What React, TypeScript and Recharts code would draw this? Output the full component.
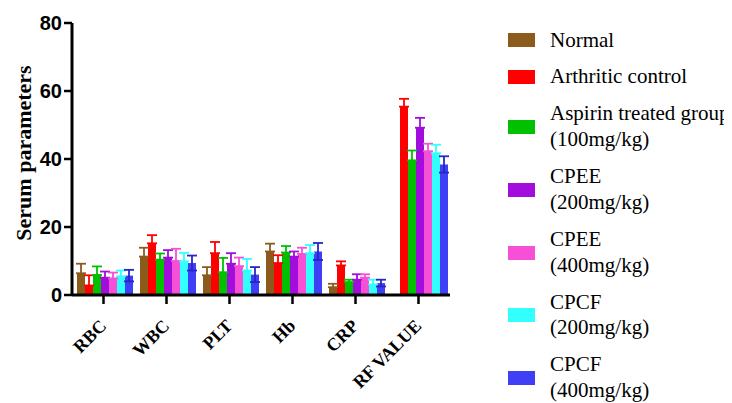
import React from 'react';
import { BarChart, Bar, XAxis, YAxis, ErrorBar, Legend, Label } from 'recharts';

const categories = ['RBC', 'WBC', 'PLT', 'Hb', 'CRP', 'RF VALUE'];

const normal = [6.4, 11.3, 5.8, 12.8, 2.3, null];
const normalErr = [2.8, 2.6, 2.4, 2.3, 1.0, null];
const arthritic = [2.8, 15.2, 12.3, 9.4, 8.7, 55.4];
const arthriticErr = [3.0, 2.4, 3.3, 2.3, 1.2, 2.3];
const aspirin = [5.9, 10.4, 6.7, 12.5, 3.8, 39.6];
const aspirinErr = [2.5, 1.8, 4.2, 1.9, 0.7, 2.9];
const cpee200 = [5.1, 11.0, 9.2, 11.3, 4.5, 49.2];
const cpee200Err = [1.8, 2.2, 3.1, 1.5, 1.6, 2.9];
const cpee400 = [4.9, 10.0, 8.5, 12.1, 5.1, 42.3];
const cpee400Err = [1.7, 3.6, 2.5, 1.8, 1.0, 2.2];
const cpcf200 = [5.5, 9.9, 7.2, 12.3, 3.1, 41.7];
const cpcf200Err = [1.7, 2.5, 3.4, 2.4, 1.4, 2.5];
const cpcf400 = [5.7, 9.4, 6.0, 12.8, 3.5, 38.4];
const cpcf400Err = [1.7, 2.2, 2.2, 2.5, 1.0, 2.4];

const yTicks = [0, 20, 40, 60, 80];

const series = [
  { key: 'normal', vals: normal, errs: normalErr, name: ['Normal'], color: '#8c5b1c', errColor: '#8c5b1c', both: false },
  { key: 'arthritic', vals: arthritic, errs: arthriticErr, name: ['Arthritic control'], color: '#ff0000', errColor: '#ff0000', both: false },
  { key: 'aspirin', vals: aspirin, errs: aspirinErr, name: ['Aspirin treated group', '(100mg/kg)'], color: '#00c000', errColor: '#00c000', both: false },
  { key: 'cpee200', vals: cpee200, errs: cpee200Err, name: ['CPEE', '(200mg/kg)'], color: '#a20cdc', errColor: '#a20cdc', both: false },
  { key: 'cpee400', vals: cpee400, errs: cpee400Err, name: ['CPEE', '(400mg/kg)'], color: '#f550d6', errColor: '#f550d6', both: false },
  { key: 'cpcf200', vals: cpcf200, errs: cpcf200Err, name: ['CPCF', '(200mg/kg)'], color: '#33ffff', errColor: '#33ffff', both: false },
  { key: 'cpcf400', vals: cpcf400, errs: cpcf400Err, name: ['CPCF', '(400mg/kg)'], color: '#3f3ff5', errColor: '#2626c8', both: true },
];

const data = categories.map((c, i) => {
  const row: any = { category: c };
  series.forEach((s) => {
    row[s.key] = s.vals[i];
    const e = s.errs[i];
    row[s.key + 'Err'] = e == null ? null : [s.both ? e : 0, e];
  });
  return row;
});

const SERIF = '"Liberation Serif", "Times New Roman", Tinos, "DejaVu Serif", "Noto Serif", serif';
const SANS = '"Liberation Sans", Arial, sans-serif';

const XTick = (props: any) => {
  const { x, y, payload } = props;
  const ax = x + 4;
  const ay = y + 21;
  return (
    <text
      x={ax}
      y={ay}
      transform={`rotate(-45, ${ax}, ${ay})`}
      textAnchor="end"
      fontFamily={SERIF}
      fontWeight="bold"
      fontSize={18}
      fill="#000"
    >
      {payload.value}
    </text>
  );
};

const LegendContent = () => (
  <div style={{ fontFamily: SERIF, fontSize: 21, color: '#000' }}>
    {series.map((s) => (
      <div
        key={s.key}
        style={{
          display: 'flex',
          alignItems: 'center',
          height: s.name.length * 25.7,
          marginBottom: 11.3,
        }}
      >
        <div style={{ width: 27, height: 14, background: s.color, flex: '0 0 auto' }} />
        <div style={{ marginLeft: 15, lineHeight: '25.7px', whiteSpace: 'nowrap' }}>
          {s.name.map((n, i) => (
            <div key={i}>{n}</div>
          ))}
        </div>
      </div>
    ))}
  </div>
);

export default function App() {
  return (
    <BarChart
      width={724}
      height={395}
      data={data}
      margin={{ top: 15, right: 282, bottom: 8, left: 0 }}
      barCategoryGap={5}
      barGap={0}
    >
      <XAxis
        dataKey="category"
        height={100}
        tick={<XTick />}
        tickSize={9}
        tickMargin={2}
        interval={0}
        axisLine={{ stroke: '#000', strokeWidth: 3 }}
        tickLine={{ stroke: '#000', strokeWidth: 2.5 }}
      />
      <YAxis
        width={64}
        domain={[0, 80]}
        ticks={yTicks}
        interval={0}
        tickSize={8}
        tickMargin={2}
        axisLine={{ stroke: '#000', strokeWidth: 3 }}
        tickLine={{ stroke: '#000', strokeWidth: 2.5 }}
        tick={{ fontFamily: SANS, fontWeight: 'bold', fontSize: 20, fill: '#000' }}
      >
        <Label
          content={() => (
            <text
              x={15}
              y={145}
              transform="rotate(-90, 15, 145)"
              textAnchor="middle"
              dominantBaseline="central"
              fontFamily={SERIF}
              fontWeight="bold"
              fontSize={22}
              fill="#000"
            >
              Serum parameters
            </text>
          )}
        />
      </YAxis>
      <Legend
        layout="horizontal"
        align="center"
        verticalAlign="middle"
        wrapperStyle={{ left: 500, top: 19.5, width: 224 }}
        content={<LegendContent />}
      />
      {series.map((s) => (
        <Bar key={s.key} dataKey={s.key} fill={s.color} isAnimationActive={false}>
          <ErrorBar dataKey={s.key + 'Err'} width={5} strokeWidth={1.8} stroke={s.errColor} direction="y" />
        </Bar>
      ))}
    </BarChart>
  );
}
